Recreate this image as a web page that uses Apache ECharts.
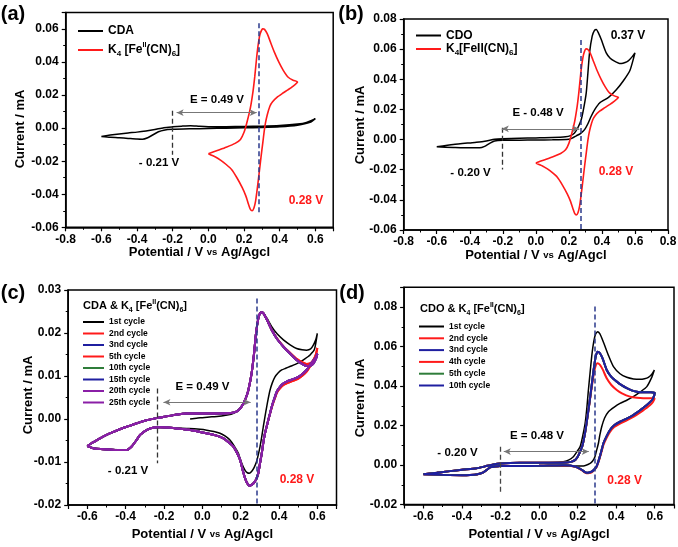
<!DOCTYPE html>
<html><head><meta charset="utf-8">
<script src="https://cdn.jsdelivr.net/npm/echarts/dist/echarts.min.js"></script>
<style>html,body{margin:0;padding:0;background:#fff}#c{width:678px;height:547px}</style>
</head><body><div id="c"></div>
<script>
// ---------------- DATA ([potential V, current mA]) ----------------
const ferroLoop = [
[0.00,-0.0155],[0.05,-0.0135],[0.10,-0.0115],[0.15,-0.0092],[0.18,-0.0068],[0.20,-0.0025],[0.215,0.003],[0.235,0.012],[0.25,0.022],[0.26,0.031],[0.27,0.042],[0.28,0.051],[0.29,0.057],[0.305,0.0602],[0.315,0.0598],[0.33,0.0572],[0.345,0.053],[0.37,0.046],[0.396,0.0398],[0.42,0.035],[0.446,0.031],[0.475,0.029],[0.50,0.028],
[0.47,0.025],[0.446,0.0232],[0.415,0.021],[0.386,0.0188],[0.36,0.016],[0.345,0.0133],[0.33,0.008],[0.32,0.003],[0.313,-0.002],[0.305,-0.009],[0.295,-0.0177],[0.285,-0.027],[0.275,-0.036],[0.265,-0.044],[0.255,-0.0485],[0.245,-0.050],[0.235,-0.049],[0.225,-0.046],[0.21,-0.041],[0.19,-0.036],[0.16,-0.030],[0.13,-0.025],[0.10,-0.022],[0.07,-0.0195],[0.04,-0.0175],[0.00,-0.0155]
];
const cdaLoop = [
[-0.60,-0.0050],[-0.55,-0.0042],[-0.50,-0.0035],[-0.45,-0.0029],[-0.40,-0.0024],[-0.35,-0.0017],[-0.30,-0.0008],[-0.25,0.0003],[-0.20,0.0008],[-0.15,0.0012],[-0.10,0.0015],[-0.05,0.0011],[0.00,0.0009],[0.10,0.0009],[0.20,0.0010],[0.30,0.0012],[0.40,0.0016],[0.50,0.0025],[0.55,0.0035],[0.60,0.0058],
[0.57,0.0035],[0.50,0.0018],[0.40,0.0008],[0.30,0.0004],[0.20,0.0002],[0.10,0.0000],[0.00,-0.0002],[-0.10,-0.0004],[-0.20,-0.0007],[-0.25,-0.0012],[-0.28,-0.0022],[-0.31,-0.0040],[-0.34,-0.0058],[-0.37,-0.0067],[-0.40,-0.0066],[-0.45,-0.0062],[-0.50,-0.0058],[-0.55,-0.0055],[-0.60,-0.0050]
];
const cdoLoop = [
[-0.60,-0.0048],[-0.50,-0.0033],[-0.40,-0.0022],[-0.36,-0.0018],[-0.30,-0.0009],[-0.25,0.0002],[-0.20,0.0006],[-0.10,0.0009],[0.00,0.0011],[0.10,0.0013],[0.18,0.0018],[0.21,0.0026],[0.234,0.0044],[0.255,0.0080],[0.275,0.0133],[0.29,0.0210],[0.305,0.0310],[0.315,0.0440],[0.325,0.0575],[0.341,0.0686],[0.355,0.0725],[0.366,0.0730],[0.38,0.0705],[0.396,0.0664],[0.426,0.0575],[0.45,0.0540],[0.476,0.0520],[0.507,0.0505],[0.527,0.0507],[0.55,0.0515],[0.567,0.0530],[0.585,0.0552],[0.60,0.0575],
[0.57,0.0460],[0.53,0.0390],[0.487,0.0330],[0.44,0.0280],[0.386,0.0243],[0.36,0.0205],[0.335,0.0155],[0.315,0.0105],[0.295,0.0066],[0.27,0.0040],[0.245,0.0025],[0.22,0.0010],[0.20,0.0002],[0.10,-0.0002],[0.00,-0.0003],[-0.10,-0.0004],[-0.20,-0.0005],[-0.25,-0.0010],[-0.28,-0.0025],[-0.31,-0.0045],[-0.34,-0.0055],[-0.40,-0.0055],[-0.50,-0.0052],[-0.60,-0.0048]
];
const cCycle1 = [
[-0.064,0.0000],[-0.03,0.0002],[0.00,0.0003],[0.05,0.0005],[0.10,0.0007],[0.15,0.0011],[0.18,0.0017],[0.20,0.0026],[0.214,0.0036],[0.228,0.0050],[0.24,0.0067],[0.257,0.0106],[0.27,0.0153],[0.28,0.0199],[0.292,0.0234],[0.30,0.0245],[0.31,0.0248],[0.32,0.0246],[0.34,0.0232],[0.362,0.0215],[0.39,0.0198],[0.423,0.0184],[0.46,0.0172],[0.492,0.0164],[0.52,0.0161],[0.544,0.0160],[0.565,0.0163],[0.579,0.0172],[0.592,0.0185],[0.60,0.0199],
[0.585,0.0162],[0.562,0.0149],[0.535,0.0140],[0.51,0.0133],[0.485,0.0127],[0.457,0.0122],[0.435,0.0118],[0.414,0.0114],[0.395,0.0107],[0.379,0.0098],[0.365,0.0084],[0.353,0.0067],[0.344,0.0048],[0.336,0.0029],[0.327,0.0006],[0.318,-0.0018],[0.31,-0.0041],[0.301,-0.0064],[0.292,-0.0083],[0.283,-0.0099],[0.27,-0.0113],[0.257,-0.0122],[0.245,-0.0126],[0.235,-0.0125],[0.224,-0.0120],[0.214,-0.0112],[0.20,-0.0096],[0.188,-0.0080],[0.165,-0.0062],[0.144,-0.0049],[0.12,-0.0040],[0.092,-0.0033],[0.06,-0.0029],[0.023,-0.0026],[-0.012,-0.0024],[-0.07,-0.0022],[-0.134,-0.0021],[-0.221,-0.0019],[-0.273,-0.0022],[-0.325,-0.0037],[-0.369,-0.0064],[-0.395,-0.0072],[-0.482,-0.0071],[-0.569,-0.0068],[-0.60,-0.0063],[-0.534,-0.0045],[-0.464,-0.0030],[-0.342,-0.0010],[-0.238,0.0002],[-0.15,0.0009],[-0.082,0.0013],[-0.064,0.0012]
];
const cCycleRed = [
[-0.600,-0.0063],[-0.580,-0.0057],[-0.560,-0.0052],[-0.534,-0.0045],[-0.500,-0.0037],[-0.464,-0.0030],[-0.420,-0.0022],[-0.380,-0.0016],[-0.342,-0.0010],[-0.300,-0.0004],[-0.238,0.0002],[-0.200,0.0005],[-0.150,0.0009],[-0.082,0.0013],[0.000,0.0013],[0.050,0.0013],[0.100,0.0013],[0.150,0.0014],[0.180,0.0018],[0.200,0.0026],[0.214,0.0036],[0.228,0.0050],[0.240,0.0067],[0.257,0.0106],[0.270,0.0153],[0.280,0.0199],[0.292,0.0234],[0.300,0.0245],[0.310,0.0248],[0.320,0.0245],[0.340,0.0228],[0.362,0.0207],[0.390,0.0187],[0.423,0.0169],[0.460,0.0153],[0.492,0.0140],[0.520,0.0132],[0.544,0.0128],[0.565,0.0130],[0.579,0.0137],[0.592,0.0150],[0.600,0.0165],
[0.592,0.0148],[0.579,0.0134],[0.560,0.0121],[0.544,0.0110],[0.520,0.0100],[0.501,0.0094],[0.470,0.0088],[0.440,0.0083],[0.420,0.0078],[0.405,0.0071],[0.390,0.0062],[0.379,0.0049],[0.365,0.0031],[0.353,0.0012],[0.340,-0.0010],[0.327,-0.0033],[0.318,-0.0055],[0.310,-0.0080],[0.300,-0.0105],[0.292,-0.0126],[0.280,-0.0141],[0.266,-0.0150],[0.255,-0.0154],[0.245,-0.0155],[0.235,-0.0150],[0.223,-0.0138],[0.210,-0.0118],[0.197,-0.0095],[0.180,-0.0078],[0.162,-0.0064],[0.140,-0.0055],[0.110,-0.0045],[0.070,-0.0038],[0.040,-0.0035],[-0.012,-0.0030],[-0.070,-0.0025],[-0.134,-0.0022],[-0.180,-0.0020],[-0.221,-0.0019],[-0.250,-0.0020],[-0.273,-0.0022],[-0.300,-0.0028],[-0.325,-0.0037],[-0.345,-0.0050],[-0.369,-0.0064],[-0.385,-0.0070],[-0.395,-0.0072],[-0.430,-0.0072],[-0.482,-0.0071],[-0.530,-0.0070],[-0.569,-0.0068],[-0.600,-0.0063]
];
const cCyclePurple = [
[-0.600,-0.0063],[-0.580,-0.0057],[-0.560,-0.0052],[-0.534,-0.0045],[-0.500,-0.0037],[-0.464,-0.0030],[-0.420,-0.0022],[-0.380,-0.0016],[-0.342,-0.0010],[-0.300,-0.0004],[-0.238,0.0002],[-0.200,0.0005],[-0.150,0.0009],[-0.082,0.0013],[0.000,0.0013],[0.050,0.0013],[0.100,0.0013],[0.150,0.0014],[0.180,0.0018],[0.200,0.0026],[0.214,0.0036],[0.228,0.0050],[0.240,0.0067],[0.257,0.0106],[0.270,0.0153],[0.280,0.0199],[0.292,0.0234],[0.300,0.0245],[0.310,0.0248],[0.320,0.0245],[0.340,0.0228],[0.362,0.0207],[0.390,0.0186],[0.423,0.0168],[0.460,0.0151],[0.492,0.0137],[0.520,0.0128],[0.544,0.0123],[0.565,0.0124],[0.579,0.0129],[0.592,0.0139],[0.600,0.0152],
[0.592,0.0143],[0.579,0.0136],[0.560,0.0125],[0.544,0.0114],[0.520,0.0104],[0.501,0.0098],[0.470,0.0092],[0.440,0.0087],[0.420,0.0082],[0.405,0.0075],[0.390,0.0065],[0.379,0.0052],[0.365,0.0033],[0.353,0.0013],[0.340,-0.0010],[0.327,-0.0033],[0.318,-0.0055],[0.310,-0.0080],[0.300,-0.0105],[0.292,-0.0126],[0.280,-0.0141],[0.266,-0.0150],[0.255,-0.0154],[0.245,-0.0155],[0.235,-0.0150],[0.223,-0.0138],[0.210,-0.0118],[0.197,-0.0095],[0.180,-0.0078],[0.162,-0.0064],[0.140,-0.0055],[0.110,-0.0045],[0.070,-0.0038],[0.040,-0.0035],[-0.012,-0.0030],[-0.070,-0.0025],[-0.134,-0.0022],[-0.180,-0.0020],[-0.221,-0.0019],[-0.250,-0.0020],[-0.273,-0.0022],[-0.300,-0.0028],[-0.325,-0.0037],[-0.345,-0.0050],[-0.369,-0.0064],[-0.385,-0.0070],[-0.395,-0.0072],[-0.430,-0.0072],[-0.482,-0.0071],[-0.530,-0.0070],[-0.569,-0.0068],[-0.600,-0.0063]
];
const dCycle1 = [
[-0.60,-0.0047],[-0.53,-0.0038],[-0.462,-0.0031],[-0.40,-0.0024],[-0.324,-0.0017],[-0.28,-0.0006],[-0.237,0.0003],[-0.20,0.0008],[-0.10,0.0011],[-0.031,0.0011],[0.05,0.0012],[0.10,0.0014],[0.126,0.0017],[0.155,0.0026],[0.178,0.0042],[0.195,0.0065],[0.213,0.0093],[0.225,0.0140],[0.239,0.0211],[0.248,0.0290],[0.256,0.0380],[0.265,0.0470],[0.273,0.0549],[0.282,0.0615],[0.292,0.0660],[0.303,0.0675],[0.315,0.0665],[0.334,0.0622],[0.36,0.0555],[0.386,0.0498],[0.42,0.0462],[0.455,0.0444],[0.49,0.0436],[0.524,0.0434],[0.547,0.0437],[0.567,0.0444],[0.585,0.0460],[0.598,0.0481],
[0.585,0.0445],[0.559,0.0397],[0.525,0.0370],[0.489,0.0346],[0.455,0.0328],[0.42,0.0312],[0.39,0.0293],[0.36,0.0270],[0.34,0.0238],[0.325,0.0194],[0.315,0.0150],[0.308,0.0110],[0.298,0.0072],[0.29,0.0042],[0.278,0.0020],[0.265,0.0008],[0.23,-0.0005],[0.178,-0.0005],[0.10,-0.0005],[0.00,-0.0005],[-0.10,-0.0005],[-0.20,-0.0006],[-0.254,-0.0012],[-0.289,-0.0037],[-0.32,-0.0048],[-0.358,-0.0052],[-0.40,-0.0052],[-0.50,-0.0050],[-0.60,-0.0047]
];
const dCycleBlue = [
[-0.600,-0.0047],[-0.530,-0.0039],[-0.462,-0.0031],[-0.400,-0.0024],[-0.324,-0.0017],[-0.280,-0.0007],[-0.237,0.0003],[-0.200,0.0008],[-0.100,0.0011],[0.000,0.0011],[0.100,0.0012],[0.140,0.0013],[0.170,0.0017],[0.190,0.0028],[0.205,0.0050],[0.225,0.0098],[0.240,0.0170],[0.252,0.0250],[0.262,0.0320],[0.272,0.0395],[0.283,0.0480],[0.293,0.0545],[0.303,0.0574],[0.315,0.0567],[0.330,0.0538],[0.351,0.0481],[0.375,0.0446],[0.403,0.0422],[0.430,0.0403],[0.455,0.0389],[0.480,0.0378],[0.507,0.0371],[0.535,0.0368],[0.559,0.0368],[0.580,0.0368],[0.600,0.0365],
[0.590,0.0335],[0.575,0.0318],[0.559,0.0304],[0.525,0.0278],[0.489,0.0253],[0.455,0.0235],[0.420,0.0219],[0.390,0.0201],[0.368,0.0177],[0.350,0.0145],[0.334,0.0110],[0.325,0.0077],[0.316,0.0045],[0.307,0.0016],[0.299,-0.0006],[0.285,-0.0024],[0.273,-0.0034],[0.260,-0.0038],[0.247,-0.0039],[0.234,-0.0033],[0.221,-0.0024],[0.200,-0.0013],[0.187,-0.0008],[0.160,-0.0003],[0.126,-0.0001],[0.050,-0.0003],[0.000,-0.0004],[-0.100,-0.0005],[-0.203,-0.0005],[-0.230,-0.0008],[-0.254,-0.0012],[-0.270,-0.0024],[-0.289,-0.0037],[-0.320,-0.0047],[-0.358,-0.0051],[-0.400,-0.0052],[-0.500,-0.0050],[-0.600,-0.0047]
];
const dCycleRed4 = [
[-0.600,-0.0047],[-0.530,-0.0039],[-0.462,-0.0031],[-0.400,-0.0024],[-0.324,-0.0017],[-0.280,-0.0007],[-0.237,0.0003],[-0.200,0.0008],[-0.100,0.0011],[0.000,0.0011],[0.100,0.0012],[0.140,0.0013],[0.170,0.0017],[0.190,0.0028],[0.205,0.0050],[0.225,0.0098],[0.240,0.0170],[0.252,0.0250],[0.262,0.0315],[0.272,0.0385],[0.283,0.0455],[0.293,0.0500],[0.303,0.0515],[0.315,0.0508],[0.330,0.0484],[0.351,0.0439],[0.375,0.0405],[0.403,0.0380],[0.430,0.0363],[0.472,0.0346],[0.507,0.0340],[0.541,0.0338],[0.570,0.0338],[0.600,0.0338],
[0.590,0.0318],[0.575,0.0302],[0.559,0.0290],[0.525,0.0266],[0.489,0.0243],[0.455,0.0226],[0.420,0.0210],[0.390,0.0192],[0.368,0.0168],[0.350,0.0137],[0.334,0.0102],[0.325,0.0070],[0.316,0.0040],[0.307,0.0012],[0.299,-0.0009],[0.285,-0.0027],[0.273,-0.0037],[0.260,-0.0041],[0.247,-0.0042],[0.234,-0.0036],[0.221,-0.0026],[0.200,-0.0014],[0.187,-0.0009],[0.160,-0.0004],[0.126,-0.0002],[0.050,-0.0003],[0.000,-0.0004],[-0.100,-0.0005],[-0.203,-0.0005],[-0.230,-0.0008],[-0.254,-0.0012],[-0.270,-0.0024],[-0.289,-0.0037],[-0.320,-0.0047],[-0.358,-0.0051],[-0.400,-0.0052],[-0.500,-0.0050],[-0.600,-0.0047]
];
const cLegendNames = ['1st cycle','2nd cycle','3nd cycle','5th cycle','10th cycle','15th cycle','20th cycle','25th cycle'];
const dLegendNames = ['1st cycle','2nd cycle','3nd cycle','4th cycle','5th cycle','10th cycle'];

// ---------------- STYLE / LAYOUT ----------------
const FONT = '"Liberation Sans", Arial, Helvetica, sans-serif';
const RED = '#ff1a1a', BLUE = '#1f1fa0', GREEN = '#2f7d3a', PURPLE = '#8a1fa6', DASHBLUE = '#2b3a8c';
const grids = [
  {left:65.7, top:12.5, width:267.5, height:214.8},
  {left:403.7, top:19, width:264.3, height:211},
  {left:68.2, top:290, width:268.3, height:215},
  {left:404.1, top:287.25, width:269.9, height:217.25}
].map(g => Object.assign({show:true, borderColor:'#000', borderWidth:1.5, containLabel:false, outerBoundsMode:'none'}, g));

function fmt(v, d){ if (Math.abs(v) < 1e-9) v = 0; return v.toFixed(d); }
const tickLabel = {fontFamily:FONT, fontWeight:'bold', fontSize:12, color:'#000'};
const nameRich = {
  b:{fontFamily:FONT, fontWeight:'bold', fontSize:13, color:'#000'},
  s:{fontFamily:FONT, fontWeight:'bold', fontSize:9.5, color:'#000'}
};
function axisCommon(){
  return {
    axisLine:{show:true, onZero:false, lineStyle:{color:'#000', width:1.5}},
    axisTick:{show:true, inside:false, length:4, lineStyle:{color:'#000', width:1.2}},
    minorTick:{show:true, splitNumber:2, length:2.5, lineStyle:{color:'#000', width:1}},
    splitLine:{show:false}, minorSplitLine:{show:false}
  };
}
function xAx(gi, min, max, interval, showMin, showMax, gap){
  const a = Object.assign(axisCommon(), {type:'value', gridIndex:gi, min, max,
    axisLabel:Object.assign({margin:6, showMinLabel:showMin, showMaxLabel:showMax, formatter:v=>fmt(v,1)}, tickLabel),
    name:'{b|Potential / V }{s|vs}{b| Ag/Agcl}', nameLocation:'middle', nameGap:gap,
    nameTextStyle:{rich:nameRich}});
  if (interval) a.interval = interval; else a.splitNumber = 7;
  return a;
}
function yAx(gi, min, max, interval, showMax){
  return Object.assign(axisCommon(), {type:'value', gridIndex:gi, min, max, interval,
    axisLabel:Object.assign({margin:7, showMaxLabel:showMax, formatter:v=>fmt(v,2)}, tickLabel)});
}
const xAxes = [ xAx(0,-0.8,0.7,0.2,true,false,17), xAx(1,-0.8,0.8,0.2,true,true,17),
                xAx(2,-0.7,0.7,null,false,false,23), xAx(3,-0.7,0.7,null,false,false,23) ];
const yAxes = [ yAx(0,-0.06,0.07,0.02,false), yAx(1,-0.06,0.08,0.02,true),
                yAx(2,-0.02,0.03,0.01,true), yAx(3,-0.02,0.09,0.02,false) ];

function cv(gi, key, data, color, width){
  return {type:'line', name:key, xAxisIndex:gi, yAxisIndex:gi, data, symbol:'none', showSymbol:false,
    smooth:0.2, animation:false, silent:true, z:2,
    itemStyle:{color}, lineStyle:{color, width}};
}
function vline(x, y1, y2, color, w){
  return [{coord:[x,y1], symbol:'none', lineStyle:{color, width:w, type:[5,3]}}, {coord:[x,y2], symbol:'none'}];
}
function arrow(y, x1, x2){
  return [{coord:[x1,y], symbol:'arrow', symbolSize:[5,7], lineStyle:{color:'#777', width:1, type:'solid'}},
          {coord:[x2,y], symbol:'arrow', symbolSize:[5,7]}];
}
function marks(gi, lines){
  return {type:'line', xAxisIndex:gi, yAxisIndex:gi, data:[], silent:true, animation:false, z:5,
    markLine:{silent:true, animation:false, symbol:'none', label:{show:false}, data:lines}};
}

const series = [
  cv(0,'a|CDA',cdaLoop,'#000',1.5),
  cv(0,'a|K4',ferroLoop,RED,1.6),
  marks(0,[vline(0.28,0.0635,-0.0514,DASHBLUE,1.5), vline(-0.2,0.0105,-0.0161,'#333',1.3), arrow(0.0094,0.271,-0.178)]),
  cv(1,'b|CDO',cdoLoop,'#000',1.5),
  cv(1,'b|K4',ferroLoop,RED,1.6),
  marks(1,[vline(0.272,0.066,-0.06,DASHBLUE,1.5), vline(-0.206,0.0078,-0.0199,'#333',1.3), arrow(0.0071,0.263,-0.206)]),
  cv(2,'c|1st cycle',cCycle1,'#000',1.5),
  cv(2,'c|2nd cycle',cCycleRed,RED,2),
  cv(2,'c|3nd cycle',cCyclePurple,BLUE,2),
  cv(2,'c|5th cycle',cCycleRed,RED,2),
  cv(2,'c|10th cycle',cCyclePurple,GREEN,2),
  cv(2,'c|15th cycle',cCyclePurple,BLUE,2),
  cv(2,'c|20th cycle',cCyclePurple,PURPLE,2),
  cv(2,'c|25th cycle',cCyclePurple,PURPLE,2),
  marks(2,[vline(0.2835,0.028,-0.02,DASHBLUE,1.5), vline(-0.235,0.0071,-0.0103,'#333',1.3), arrow(0.0039,0.252,-0.203)]),
  cv(3,'d|1st cycle',dCycle1,'#000',1.5),
  cv(3,'d|2nd cycle',dCycleBlue,RED,2),
  cv(3,'d|3nd cycle',dCycleBlue,BLUE,2),
  cv(3,'d|4th cycle',dCycleRed4,RED,2),
  cv(3,'d|5th cycle',dCycleBlue,GREEN,2),
  cv(3,'d|10th cycle',dCycleBlue,BLUE,2),
  marks(3,[vline(0.289,0.0802,-0.02,DASHBLUE,1.5), vline(-0.2,0.0093,-0.0143,'#444',1.3), arrow(0.0068,0.258,-0.183)])
];

function richSet(size, lh){
  return {
    n:{fontFamily:FONT, fontWeight:'bold', fontSize:size, color:'#000', lineHeight:lh},
    sb:{fontFamily:FONT, fontWeight:'bold', fontSize:Math.round(size*0.65), color:'#000', lineHeight:Math.round(size*0.65), verticalAlign:'bottom'},
    sp:{fontFamily:FONT, fontWeight:'bold', fontSize:Math.round(size*0.6), color:'#000', lineHeight:Math.round(size*0.6), verticalAlign:'top'}
  };
}
const legendText = {
  'a|CDA':'{n|CDA}', 'a|K4':'{n|K}{sb|4}{n| [Fe}{sp|II}{n|(CN)}{sb|6}{n|]}',
  'b|CDO':'{n|CDO}', 'b|K4':'{n|K}{sb|4}{n|[FeII(CN)}{sb|6}{n|]}'
};
function legendFmt(name){ return legendText[name] || ('{n|' + name.split('|')[1] + '}'); }
function legend(data, left, top, w, size, lh, gap){
  return {data, left, top, orient:'vertical', icon:'rect', itemWidth:w, itemHeight:2, itemGap:gap, padding:0,
    selectedMode:false, formatter:legendFmt, textStyle:{rich:richSet(size,lh)}};
}
const legends = [
  legend(['a|CDA','a|K4'], 78, 25, 25, 12, 16, 5),
  legend(['b|CDO','b|K4'], 416, 29.5, 25, 12, 15, 1.5),
  legend(cLegendNames.map(n=>'c|'+n), 83, 317.5, 21, 8.5, 10, 2.5),
  legend(dLegendNames.map(n=>'d|'+n), 419, 322, 25, 8.5, 10, 2.8)
];

function txt(x, y, text, size, color, rot){
  return {type:'text', x, y, rotation:rot||0, silent:true, z:10, style:{text, fill:color||'#000', font:'bold '+size+'px '+FONT,
    align:'center', verticalAlign:'middle', textAlign:'center', textVerticalAlign:'middle'}};
}
function richTxt(x, y, text, size){
  return {type:'text', x, y, silent:true, z:10, style:{text, rich:richSet(size, size+4), align:'left', verticalAlign:'middle', textAlign:'left', textVerticalAlign:'middle'}};
}
const R90 = Math.PI / 2;
const graphics = [
  txt(13,14,'(a)',20), txt(351,14,'(b)',20), txt(13,293,'(c)',20), txt(352,293,'(d)',20),
  txt(20.5,129,'Current / mA',13,'#000',R90), txt(360,125,'Current / mA',13,'#000',R90),
  txt(28,395,'Current / mA',13,'#000',R90), txt(360,398,'Current / mA',13,'#000',R90),
  txt(217,100,'E = 0.49 V',11.5), txt(159,163,'- 0.21 V',11.5), txt(306,201,'0.28 V',12,RED),
  txt(628,35.5,'0.37 V',12), txt(538,112.5,'E - 0.48 V',11.5), txt(470.5,173,'- 0.20 V',11.5), txt(616,172,'0.28 V',12,RED),
  txt(202.5,387,'E = 0.49 V',11.5), txt(128,471,'- 0.21 V',11.5), txt(297,480,'0.28 V',12,RED),
  txt(537,436,'E = 0.48 V',11.5), txt(457.5,453,'- 0.20 V',11.5), txt(624.7,480.7,'0.28 V',12,RED),
  richTxt(83,306,'{n|CDA & K}{sb|4}{n| [Fe}{sp|II}{n|(CN)}{sb|6}{n|]}',11),
  richTxt(420,309,'{n|CDO & K}{sb|4}{n| [Fe}{sp|II}{n|(CN)}{sb|6}{n|]}',11)
];

const chart = echarts.init(document.getElementById('c'), null, {renderer:'canvas'});
chart.setOption({
  animation:false, backgroundColor:'#fff',
  grid:grids, xAxis:xAxes, yAxis:yAxes, legend:legends, series, graphic:graphics
});
</script></body></html>
